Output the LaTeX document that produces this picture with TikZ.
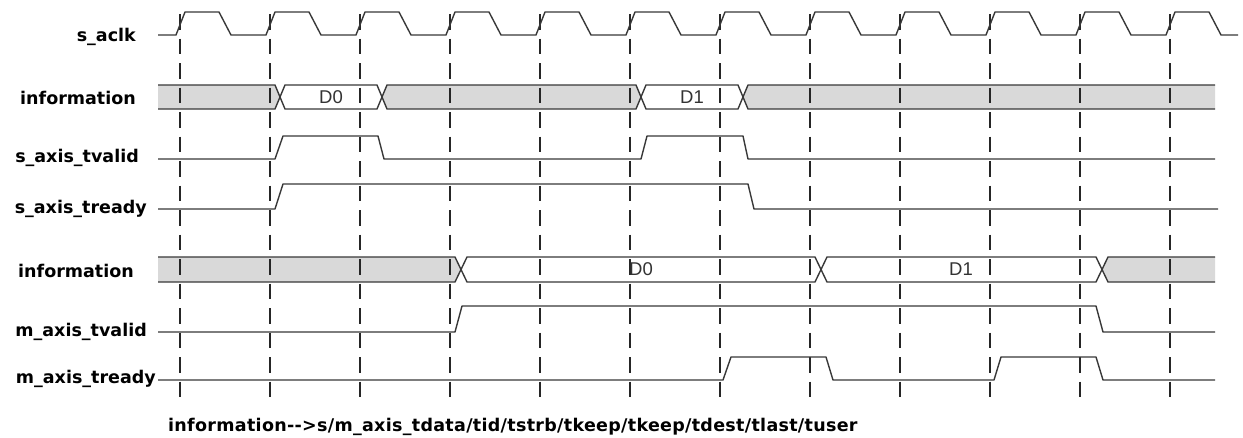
\documentclass[tikz,border=0pt]{standalone}
\usepackage{fontspec}
\newfontfamily\lblfont{DejaVu Sans}
\newfontfamily\notefont{DejaVu Sans}[LetterSpace=1.7]
\newfontfamily\busfont{Liberation Sans}
\definecolor{sigc}{HTML}{383838}
\definecolor{dashc}{HTML}{262626}
\definecolor{busgray}{HTML}{D9D9D9}
\definecolor{bustext}{HTML}{333333}
\begin{document}
\begin{tikzpicture}[x=1pt,y=-1pt,
  sig/.style={draw=sigc, line width=1.4pt, line join=round},
  grid/.style={draw=dashc, line width=1.5pt, dash pattern=on 15.5pt off 9pt},
  lbl/.style={inner sep=0pt, anchor=base east, font=\lblfont\bfseries\fontsize{17.5}{20}\selectfont, text=black},
  notelbl/.style={inner sep=0pt, anchor=base west, font=\notefont\bfseries\fontsize{17.5}{20}\selectfont, text=black},
  bustxt/.style={inner sep=0pt, font=\busfont\fontsize{18.5}{20}\selectfont, text=bustext},
  graybus/.style={fill=busgray},
  whitebus/.style={fill=white}]
\useasboundingbox (0,0) rectangle (1243,437);

% ---- bus fills ----
% top information bus (85..109)
\fill[graybus] (158,85) -- (275,85) -- (280,97) -- (275,109) -- (158,109) -- cycle;
\fill[graybus] (382,97) -- (387,85) -- (636,85) -- (641,97) -- (636,109) -- (387,109) -- cycle;
\fill[graybus] (743,97) -- (748,85) -- (1215,85) -- (1215,109) -- (748,109) -- cycle;
% lower information bus (257..282)
\fill[graybus] (158,257) -- (455,257) -- (461,269.5) -- (455,282) -- (158,282) -- cycle;
\fill[graybus] (1102,269.5) -- (1108,257) -- (1215,257) -- (1215,282) -- (1108,282) -- cycle;

% ---- dashed clock-edge lines ----
\foreach \d in {180,270,...,1170} {
  \draw[grid] (\d,14) -- (\d,398);
}

% ---- labels ----
\node[lbl] (lclk) at (136,41) {s\_aclk};
\node[lbl] (linfo1) at (136,104) {information};
\node[lbl] (lsval) at (139,162) {s\_axis\_tvalid};
\node[lbl] (lsrdy) at (147,213) {s\_axis\_tready};
\node[lbl] (linfo2) at (134,277) {information};
\node[lbl] (lmval) at (147,336) {m\_axis\_tvalid};
\node[lbl] (lmrdy) at (156,383) {m\_axis\_tready};
\node[notelbl] (lnote) at (168,431) {information-{}-{}>s/m\_axis\_tdata/tid/tstrb/tkeep/tkeep/tdest/tlast/tuser};

% ---- clock ----
\draw[sig] (158,35) \foreach \d in {180,270,...,1170} {
  -- (\d-4,35) -- (\d+5,12) -- (\d+39,12) -- (\d+51,35) } -- (1238,35);

% ---- top bus outlines ----
\draw[sig] (158,85) -- (275,85) -- (285,109) -- (377,109) -- (387,85) -- (636,85) -- (646,109) -- (738,109) -- (748,85) -- (1215,85);
\draw[sig] (158,109) -- (275,109) -- (285,85) -- (377,85) -- (387,109) -- (636,109) -- (646,85) -- (738,85) -- (748,109) -- (1215,109);
\node[bustxt] (d0a) at (331,97) {D0};
\node[bustxt] (d1a) at (692,97) {D1};

% ---- s_axis_tvalid ----
\draw[sig] (158,159) -- (275,159) -- (283,136) -- (378,136) -- (384,159) -- (641,159) -- (647,136) -- (743,136) -- (748,159) -- (1215,159);

% ---- s_axis_tready ----
\draw[sig] (158,209) -- (275,209) -- (283,184) -- (748,184) -- (754,209) -- (1218,209);

% ---- lower bus outlines ----
\draw[sig] (158,257) -- (455,257) -- (467,282) -- (815,282) -- (827,257) -- (1096,257) -- (1108,282) -- (1215,282);
\draw[sig] (158,282) -- (455,282) -- (467,257) -- (815,257) -- (827,282) -- (1096,282) -- (1108,257) -- (1215,257);
\node[bustxt] (d0b) at (641,269.5) {D0};
\node[bustxt] (d1b) at (961,269.5) {D1};

% ---- m_axis_tvalid ----
\draw[sig] (158,332) -- (455,332) -- (462,306) -- (1096,306) -- (1103,332) -- (1215,332);

% ---- m_axis_tready ----
\draw[sig] (158,380) -- (723,380) -- (731,357) -- (826,357) -- (833,380) -- (994,380) -- (1001,357) -- (1096,357) -- (1103,380) -- (1215,380);
\end{tikzpicture}
\end{document}
